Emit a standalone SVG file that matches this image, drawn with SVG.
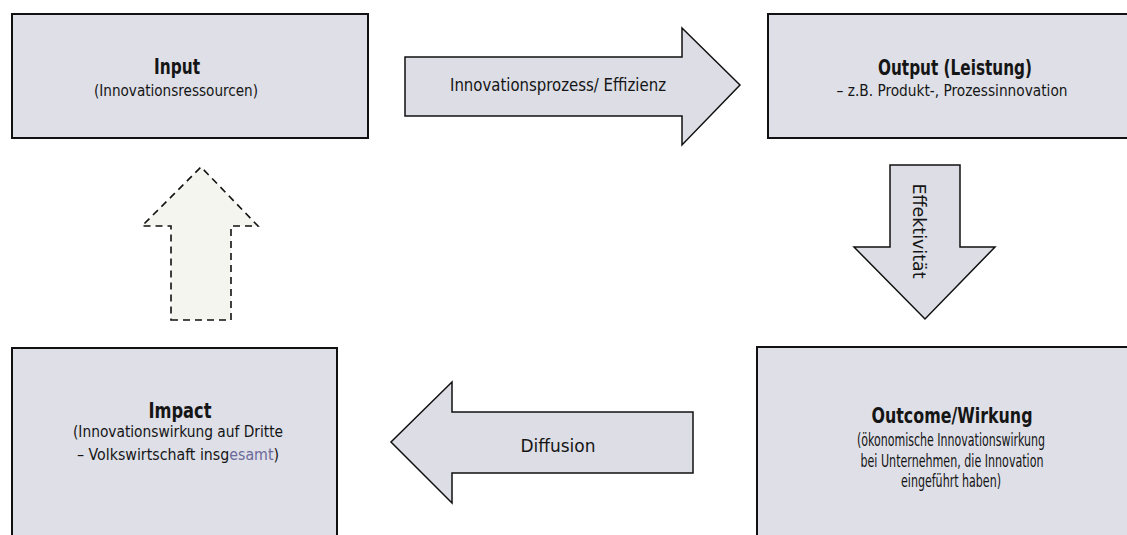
<svg xmlns="http://www.w3.org/2000/svg" width="1127" height="535" viewBox="0 0 1127 535">
<style>
.box{fill:#dedfe7;stroke:#111;stroke-width:2}
.arr{fill:#dcdde5;stroke:#111;stroke-width:1.5;stroke-linejoin:miter}
.dash{fill:#f3f5ee;stroke:#111;stroke-width:1.6;stroke-dasharray:7,5}
text{font-family:"Liberation Sans Narrow","DejaVu Sans Condensed","Liberation Sans",sans-serif;fill:#151515;text-anchor:middle}
.t{font-size:22px;font-weight:bold}
.s{font-size:16px}
.o{font-size:17px}
.l{font-size:17.5px}
</style>
<rect width="1127" height="535" fill="#fff"/>
<g id="input">
<rect class="box" x="12" y="14" width="356" height="124"/>
<text class="t" x="177" y="74" textLength="46" lengthAdjust="spacingAndGlyphs">Input</text>
<text class="s" x="176" y="96" textLength="164" lengthAdjust="spacingAndGlyphs">(Innovationsressourcen)</text>
</g>
<g id="output">
<rect class="box" x="768" y="14" width="370" height="124"/>
<text class="t" x="955" y="75" textLength="154" lengthAdjust="spacingAndGlyphs">Output (Leistung)</text>
<text class="s" x="952" y="96" textLength="231" lengthAdjust="spacingAndGlyphs">– z.B. Produkt-, Prozessinnovation</text>
</g>
<g id="outcome">
<rect class="box" x="757" y="347" width="380" height="200"/>
<text class="t" x="952" y="423" textLength="161" lengthAdjust="spacingAndGlyphs">Outcome/Wirkung</text>
<text class="o" x="951" y="446" textLength="188" lengthAdjust="spacingAndGlyphs">(ökonomische Innovationswirkung</text>
<text class="o" x="952" y="467" textLength="183" lengthAdjust="spacingAndGlyphs">bei Unternehmen, die Innovation</text>
<text class="o" x="951" y="487" textLength="100" lengthAdjust="spacingAndGlyphs">eingeführt haben)</text>
</g>
<g id="impact">
<rect class="box" x="12" y="348" width="325" height="200"/>
<text class="t" x="180" y="418" textLength="63" lengthAdjust="spacingAndGlyphs">Impact</text>
<text class="s" x="178" y="437" textLength="210" lengthAdjust="spacingAndGlyphs">(Innovationswirkung auf Dritte</text>
<text class="s" x="178" y="460" textLength="202" lengthAdjust="spacingAndGlyphs">– Volkswirtschaft insg<tspan fill="#6b6a99">esamt</tspan>)</text>
</g>
<g id="connectors">
<g id="arrow-effizienz">
<polygon class="arr" points="405,57 682,57 682,28 740,85 682,145 682,116 405,116"/>
<text class="l" x="558" y="91" textLength="216" lengthAdjust="spacingAndGlyphs">Innovationsprozess/ Effizienz</text>
</g>
<g id="arrow-effektivitaet">
<polygon class="arr" points="890,165 960,165 960,247 995,247 925,319 854,247 890,247"/>
<text class="l" transform="translate(913,231) rotate(90)" textLength="95" lengthAdjust="spacingAndGlyphs">Effektivität</text>
</g>
<g id="arrow-diffusion">
<polygon class="arr" points="693,412 452,412 452,382 391,442 452,503 452,473 693,473"/>
<text class="l" x="558" y="452" textLength="75" lengthAdjust="spacingAndGlyphs">Diffusion</text>
</g>
<g id="arrow-impact-input">
<polygon class="dash" points="171,320 231,320 231,226 258,226 201,167 142,226 171,226"/>
</g>
</g>
</svg>
